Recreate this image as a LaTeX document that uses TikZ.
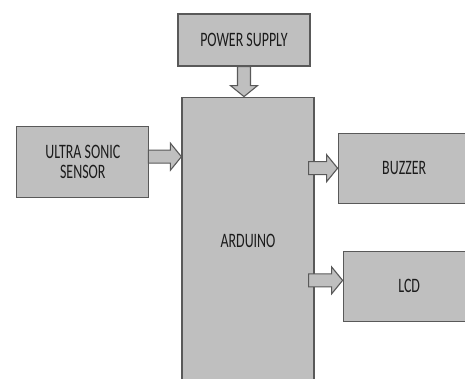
\documentclass[tikz,border=0pt]{standalone}
\usepackage{fontspec}
\setmainfont{Carlito}[FakeStretch=0.68]
\usetikzlibrary{positioning,calc}
\definecolor{boxGray}{RGB}{191,191,191}
\definecolor{edgeGray}{RGB}{89,89,89}
\definecolor{textGray}{RGB}{28,28,28}

\begin{document}
\begin{tikzpicture}[
    x=1pt, y=1pt,
    node distance=30pt,
    box/.style={
        draw=edgeGray,
        line width=1.2pt,
        fill=boxGray,
        align=center,
        inner sep=0pt,
        minimum width=132pt,
        minimum height=70pt,
        text=textGray,
        font=\fontsize{20.5}{20}\selectfont
    },
    fat/.style={
        draw=edgeGray,
        line width=1.1pt,
        fill=boxGray,
        to path={let \p1=(\tikztostart), \p2=(\tikztotarget),
            \n1={atan2(\y2-\y1,\x2-\x1)} in
            ($(\p1)+(\n1+90:6.5pt)$)
            -- ($(\p2)+(\n1+180:11pt)+(\n1+90:6.5pt)$)
            -- ($(\p2)+(\n1+180:11pt)+(\n1+90:13.5pt)$)
            -- (\p2)
            -- ($(\p2)+(\n1+180:11pt)+(\n1-90:13.5pt)$)
            -- ($(\p2)+(\n1+180:11pt)+(\n1-90:6.5pt)$)
            -- ($(\p1)+(\n1-90:6.5pt)$) -- cycle}
    }
]
    \useasboundingbox (0,0) rectangle (465,379);
    \clip (0,0) rectangle (465,379);

    % ---------------------------------------------------------
    % TOP: SUPPLY
    % ---------------------------------------------------------
    \node[box, minimum height=52pt] (ps) at (244,339) {POWER SUPPLY};

    % ---------------------------------------------------------
    % MIDDLE: CONTROLLER
    % ---------------------------------------------------------
    \node[box, below=30pt of ps, xshift=4pt, minimum height=288pt] (ard) {ARDUINO};

    % Input (Left)
    \node[box, below left=29pt and 32pt of ard.north west, minimum height=71pt] (sensor) {ULTRA SONIC\\SENSOR};

    % Outputs (Right)
    \node[box, below right=36pt and 23pt of ard.north east] (buzzer) {BUZZER};
    \node[box, below=47pt of buzzer, xshift=5pt] (lcd) {LCD};

    % ---------------------------------------------------------
    % ARROWS
    % ---------------------------------------------------------
    \draw[fat] (ps.south) to (ps.south |- ard.north);
    \draw[fat] ($(sensor.east)+(-1,5)$) to ($(sensor.east -| ard.west)+(0,5)$);
    \draw[fat] ($(buzzer.west -| ard.east)+(-6,0)$) to (buzzer.west);
    \draw[fat] ($(lcd.west -| ard.east)+(-6,6)$) to ($(lcd.west)+(0,6)$);

\end{tikzpicture}
\end{document}
